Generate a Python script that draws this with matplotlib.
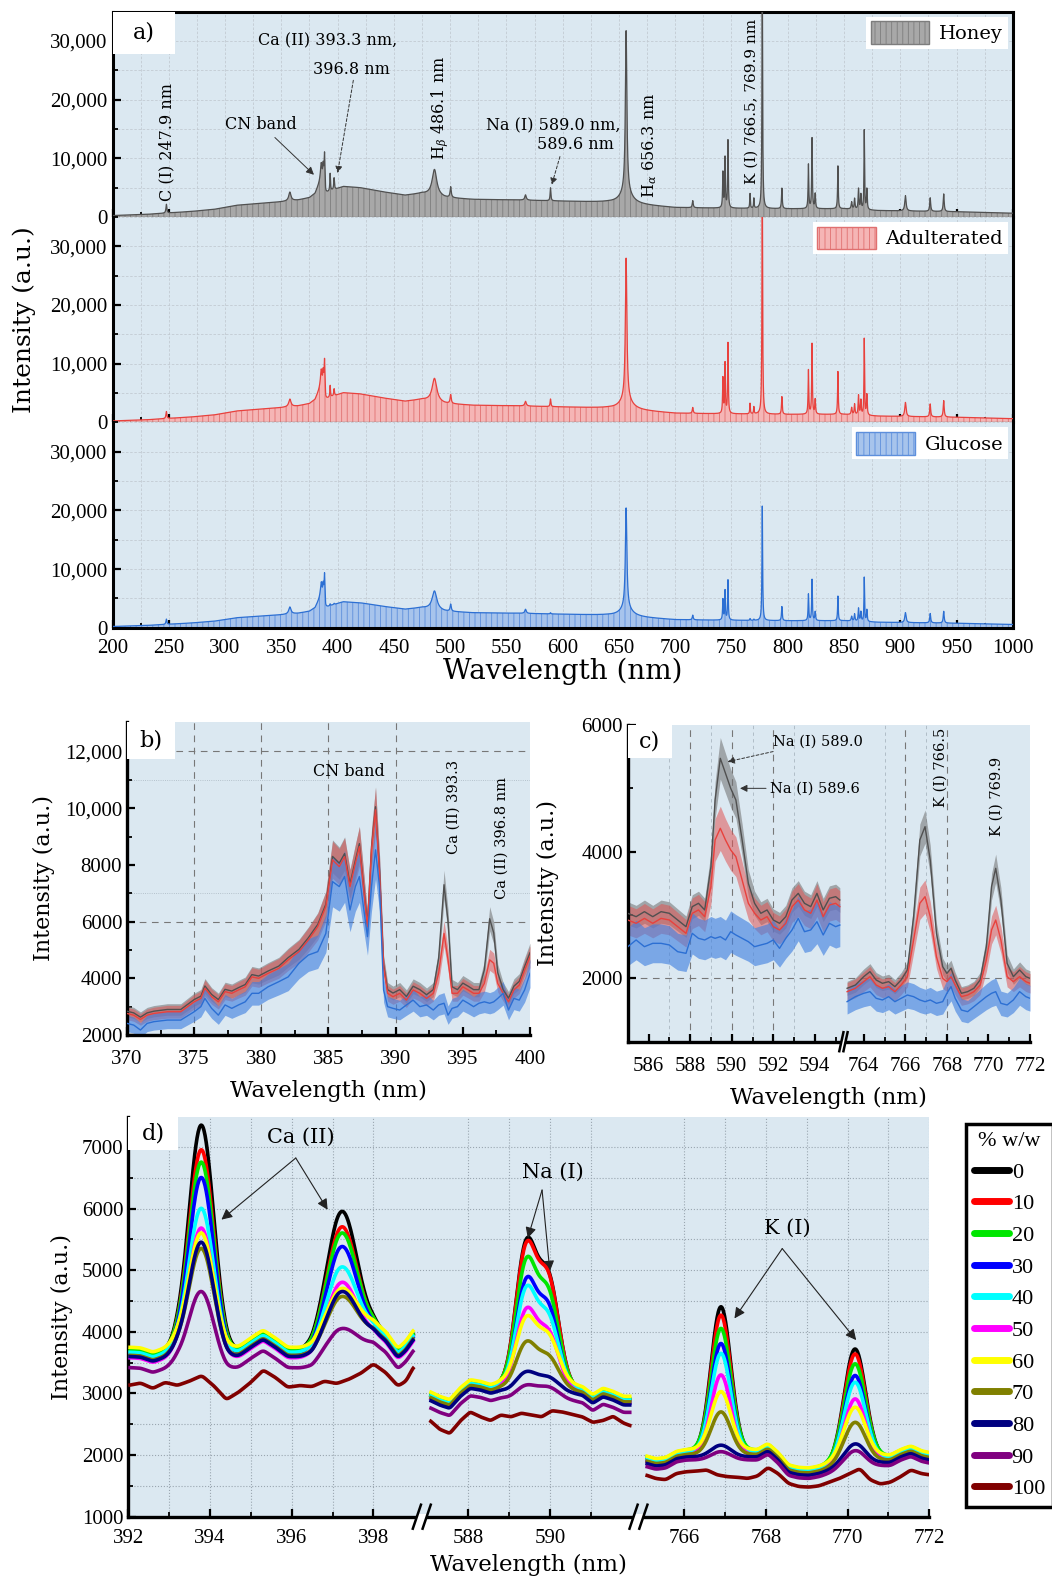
import numpy as np
import matplotlib

matplotlib.use("Agg")
import matplotlib.pyplot as plt
import matplotlib.transforms as mtransforms
from matplotlib.lines import Line2D
from matplotlib.patches import Patch, Rectangle
from matplotlib.ticker import FixedLocator, FuncFormatter, MultipleLocator

plt.rcParams["font.family"] = "DejaVu Serif"
plt.rcParams["mathtext.fontset"] = "dejavuserif"
plt.rcParams["hatch.linewidth"] = 0.6

TICK_FONT = "Liberation Serif"
BG = "#dbe8f1"

# ---------------- panel a: full spectra ----------------
series_names = ["Honey", "Adulterated", "Glucose"]
line_colors = ["#505050", "#e8413d", "#2c6fd3"]
fill_colors = ["#a8a8a8", "#f5b5b5", "#a7c4ec"]
hatch_colors = ["#7d7d7d", "#e07070", "#5d8fdc"]

a_base_wl = [200, 230, 250, 270, 290, 310, 330, 350, 365, 375, 380, 384.5, 388.9, 389.4, 395, 405,
             420, 440, 460, 475, 495, 520, 560, 600, 640, 680, 700, 740, 800, 850, 880, 950, 1000]
a_base_val = [250, 450, 700, 950, 1300, 2000, 2300, 2600, 2900, 3300, 4000, 6000, 6000, 4000, 4500, 5200,
              5000, 4300, 3700, 4000, 3300, 3000, 2900, 2700, 2500, 1900, 1600, 1500, 1400, 1400, 1100, 900, 650]
a_base_scale = [1.0, 0.97, 0.85]

a_peak_center = [247.9, 357.6, 385.5, 387.2, 388.4, 393.4, 396.9, 486.1, 500.5, 567.0, 589.2, 656.4, 656.4,
                 715.6, 742.4, 744.3, 746.9, 766.5, 769.9, 777.4, 794.8, 818.4, 821.6, 824.4, 844.6,
                 856.8, 859.4, 862.9, 865.0, 868.0, 870.3, 904.6, 926.6, 938.6]
a_peak_hwhm = [0.5, 1.2, 0.8, 0.5, 0.4, 0.35, 0.4, 2.5, 0.6, 0.8, 0.4, 0.8, 6.0,
               0.5, 0.35, 0.35, 0.35, 0.3, 0.3, 0.35, 0.4, 0.35, 0.35, 0.4, 0.35,
               0.5, 0.4, 0.4, 0.4, 0.3, 0.4, 0.7, 0.5, 0.5]
a_peak_honey = [1500, 1500, 3000, 2500, 4500, 3000, 2000, 4500, 1800, 900, 2200, 27500, 2000,
                1200, 6000, 8500, 11500, 2500, 1700, 40000, 3500, 7500, 12000, 2500, 7300,
                1200, 1800, 3500, 2500, 13500, 3500, 2600, 2300, 3000]
a_peak_adult = [1200, 1300, 3000, 2500, 4500, 2000, 1200, 4000, 1500, 800, 1300, 24000, 1800,
                1000, 6000, 8500, 12000, 1800, 1200, 40000, 3000, 7500, 12000, 2500, 7300,
                1200, 1800, 3300, 2500, 13000, 3500, 2400, 2200, 2800]
a_peak_glucose = [900, 1200, 2500, 2000, 3800, 300, 200, 3200, 1200, 700, 200, 17000, 1500,
                  800, 3500, 5000, 6800, 300, 200, 19500, 2400, 4500, 7000, 1500, 4200,
                  800, 1200, 2200, 1600, 7500, 2000, 1700, 1600, 2000]
a_peak_heights = [a_peak_honey, a_peak_adult, a_peak_glucose]

# ---------------- panel b: CN band region ----------------
b_wl = [370, 370.5, 371, 371.5, 372, 373, 374, 375, 375.5, 375.8, 376.3, 376.8, 377.3, 377.8, 378.3,
        378.8, 379.3, 379.8, 380.5, 381.3, 382, 382.8, 383.5, 384.2, 384.8, 385.3, 385.8, 386.2, 386.6,
        387.0, 387.3, 387.6, 387.9, 388.2, 388.5, 388.8, 389.1, 389.4, 389.8, 390.3, 390.8, 391.3, 391.8,
        392.3, 392.8, 393.2, 393.6, 393.9, 394.2, 394.6, 395.0, 395.4, 395.8, 396.2, 396.6, 397.0, 397.3,
        397.6, 398.0, 398.4, 398.8, 399.2, 399.6, 400]
b_adult = [2760, 2700, 2550, 2700, 2760, 2820, 2820, 3170, 3290, 3650, 3350, 3170, 3530, 3470, 3590,
           3700, 4050, 4000, 4175, 4350, 4650, 4940, 5350, 5820, 6530, 8180, 7940, 8290, 7235,
           8060, 8650, 7235, 5820, 8530, 9940, 7700, 4410, 3470, 3350, 3470, 3230, 3590, 3470,
           3290, 3470, 4175, 5580, 4650, 3470, 3470, 3700, 3590, 3470, 3470, 3820, 4650, 4530,
           3820, 3470, 3170, 3590, 3760, 4290, 4760]
b_honey = [2840, 2780, 2630, 2780, 2840, 2900, 2900, 3250, 3370, 3730, 3430, 3250, 3610, 3550, 3670,
           3780, 4130, 4080, 4255, 4430, 4730, 5020, 5430, 5900, 6610, 8300, 8060, 8400, 7330,
           8160, 8750, 7330, 5900, 8630, 10050, 7800, 4490, 3600, 3480, 3600, 3360, 3720, 3600,
           3420, 3600, 4700, 7300, 6000, 3700, 3600, 3830, 3720, 3600, 3600, 4300, 6100, 5600,
           4200, 3600, 3300, 3720, 3890, 4420, 4900]
b_glucose = [2410, 2350, 2175, 2410, 2470, 2526, 2526, 2820, 3000, 3290, 2940, 2700, 3060, 2940, 3060,
             3170, 3470, 3470, 3700, 3880, 4050, 4530, 4820, 4940, 5580, 7410, 7235, 7590, 6410,
             7235, 7590, 6530, 5470, 7235, 8530, 7235, 3590, 3000, 2940, 2880, 3060, 3230, 3000,
             3060, 2880, 3060, 3120, 2700, 2940, 3000, 3230, 3120, 3000, 3120, 3170, 3120, 3170,
             3290, 3470, 2880, 3290, 3230, 3590, 4175]
b_rel_spread = [0.07, 0.08, 0.12]

# ---------------- panel c: Na and K lines ----------------
c_wl_na = [585, 585.4, 585.8, 586.2, 586.6, 587.0, 587.4, 587.8, 588.1, 588.4, 588.7, 589.0, 589.2, 589.45,
           589.7, 589.95, 590.2, 590.5, 590.8, 591.1, 591.4, 591.7, 592.0, 592.3, 592.6, 592.9, 593.2,
           593.5, 593.8, 594.1, 594.4, 594.7, 595.0, 595.2]
c_na_honey = [3027, 2974, 3053, 2974, 3053, 3027, 2921, 2816, 3132, 3185, 3080, 3763, 4816, 5474,
              5237, 5000, 4816, 4185, 3500, 3185, 3027, 3080, 2921, 2869, 2974, 3237, 3342,
              3185, 3132, 3342, 3080, 3264, 3290, 3237]
c_na_adult = [2921, 2869, 2947, 2869, 2947, 2921, 2816, 2711, 3027, 3080, 2974, 3448, 4185, 4369,
              4185, 4027, 3921, 3553, 3185, 3027, 2921, 2974, 2816, 2764, 2869, 3132, 3237,
              3080, 3027, 3237, 2974, 3158, 3185, 3132]
c_na_glucose = [2500, 2606, 2500, 2553, 2553, 2527, 2421, 2395, 2711, 2632, 2606, 2658, 2632, 2658,
                2606, 2737, 2685, 2632, 2579, 2500, 2527, 2553, 2606, 2474, 2632, 2764, 2947,
                2737, 2764, 2895, 2685, 2869, 2816, 2842]
c_wl_k = [763.2, 763.6, 764.0, 764.3, 764.6, 764.9, 765.2, 765.5, 765.8, 766.1, 766.4, 766.7, 766.95,
          767.2, 767.5, 767.8, 768.0, 768.2, 768.4, 768.7, 769.0, 769.3, 769.6, 769.9, 770.15, 770.35,
          770.6, 770.9, 771.2, 771.5, 771.8, 772.0]
c_k_honey = [1843, 1895, 2027, 2106, 1974, 1922, 1948, 1869, 1974, 2132, 2974, 4185, 4395,
             3869, 2711, 2185, 2079, 2158, 1974, 1764, 1790, 1843, 1974, 2500, 3448, 3737,
             3237, 2237, 2027, 2132, 2027, 2000]
c_k_adult = [1790, 1843, 1948, 2027, 1895, 1843, 1869, 1790, 1895, 2027, 2606, 3185, 3290,
             2974, 2342, 2000, 1948, 2027, 1895, 1711, 1737, 1790, 1895, 2290, 2764, 2921,
             2606, 2027, 1948, 2027, 1948, 1922]
c_k_glucose = [1632, 1711, 1764, 1790, 1685, 1659, 1711, 1632, 1685, 1737, 1711, 1659, 1632,
               1659, 1606, 1632, 1764, 1869, 1685, 1500, 1474, 1553, 1632, 1711, 1764, 1790,
               1606, 1580, 1659, 1790, 1711, 1685]
c_rel_spread = [0.06, 0.08, 0.12]

# ---------------- panel d: concentration series ----------------
d_levels = [0, 10, 20, 30, 40, 50, 60, 70, 80, 90, 100]
d_colors = ["#000000", "#ff0000", "#00e600", "#0000ff", "#00ffff", "#ff00ff",
            "#ffff00", "#808000", "#000080", "#800080", "#800000"]

d_ca_wl = [392.0, 392.3, 392.6, 392.9, 393.2, 393.5, 393.8, 394.1, 394.4, 394.7, 395.0, 395.3, 395.6,
           395.9, 396.2, 396.5, 396.8, 397.1, 397.4, 397.7, 398.0, 398.3, 398.6, 398.8, 399.0]
d_ca_bg = [3700, 3690, 3620, 3680, 3780, 3750, 3700, 3680, 3620, 3700, 3850, 3980, 3850,
           3700, 3690, 3700, 3850, 3950, 3980, 4020, 4080, 3950, 3680, 3800, 4000]
d_ca_bg100 = [3130, 3170, 3080, 3180, 3130, 3200, 3290, 3120, 2900, 3020, 3180, 3380, 3260,
              3100, 3130, 3110, 3200, 3160, 3230, 3330, 3480, 3340, 3120, 3200, 3450]
d_ca_lines = [393.79, 397.23]
d_ca_sigma = [0.30, 0.36]
d_ca_offset = [0, -20, 0, -50, -30, -120, 50, -80, -100, -280, 0]
d_ca_h1 = [3650, 3270, 3050, 2850, 2330, 2100, 1850, 1730, 1850, 1230, 0]
d_ca_h2 = [1990, 1760, 1640, 1470, 1120, 960, 690, 690, 790, 370, 0]

d_na_wl = [587.05, 587.3, 587.55, 587.8, 588.05, 588.3, 588.55, 588.8, 589.05, 589.3, 589.55,
           589.8, 590.05, 590.3, 590.55, 590.8, 591.05, 591.3, 591.55, 591.8, 592.0]
d_na_bg = [2974, 2893, 2838, 3027, 3163, 3136, 3082, 3120, 3100, 3100, 3100,
           3100, 3100, 3100, 3080, 3050, 2920, 3027, 2974, 2893, 2893]
d_na_bg100 = [2570, 2420, 2350, 2550, 2700, 2620, 2560, 2650, 2620, 2680, 2650,
              2620, 2720, 2700, 2660, 2620, 2530, 2560, 2630, 2520, 2470]
d_na_lines = [589.42, 589.97]
d_na_sigma = [0.25, 0.25]
d_na_offset = [0, 0, 20, -50, 0, -40, 60, -30, -80, -200, 0]
d_na_h1 = [2250, 2200, 1950, 1710, 1540, 1245, 1025, 730, 315, 220, 0]
d_na_h2 = [1690, 1670, 1425, 1270, 1075, 870, 730, 495, 225, 190, 0]

d_k_wl = [765.05, 765.3, 765.55, 765.8, 766.05, 766.3, 766.55, 766.8, 767.05, 767.3, 767.55, 767.8,
          768.05, 768.3, 768.55, 768.8, 769.05, 769.3, 769.55, 769.8, 770.05, 770.3, 770.55, 770.8,
          771.05, 771.3, 771.55, 771.8, 772.0]
d_k_bg = [1950, 1900, 1920, 2020, 2050, 2050, 2050, 2050, 2050, 2050, 2050, 2050,
          2150, 2000, 1800, 1760, 1750, 1780, 1830, 1880, 1900, 1920, 1930, 1950,
          1960, 2050, 2110, 2030, 2000]
d_k_bg100 = [1680, 1620, 1600, 1700, 1730, 1740, 1760, 1680, 1650, 1640, 1620, 1660,
             1800, 1700, 1540, 1490, 1480, 1500, 1560, 1620, 1700, 1780, 1600, 1530,
             1560, 1650, 1760, 1700, 1680]
d_k_lines = [766.90, 770.18]
d_k_sigma = [0.24, 0.26]
d_k_offset = [0, -20, 30, -30, 0, -50, 40, -40, -80, -130, 0]
d_k_h1 = [2356, 2240, 1975, 1790, 1600, 1300, 940, 690, 190, 135, 0]
d_k_h2 = [1810, 1750, 1540, 1410, 1270, 1050, 825, 660, 350, 290, 0]


def style_axis(ax, xpad=4):
    ax.set_facecolor(BG)
    ax.tick_params(which="both", direction="in", labelsize=15, labelfontfamily=TICK_FONT)
    ax.tick_params(which="major", length=6, width=1.6)
    ax.tick_params(which="minor", length=3.5, width=1.3)
    ax.tick_params(axis="x", which="both", pad=xpad)


def open_spines(ax):
    ax.spines["top"].set_visible(False)
    ax.spines["right"].set_visible(False)
    ax.spines["left"].set_linewidth(2.4)
    ax.spines["bottom"].set_linewidth(2.4)


def panel_label(ax, text, w, h):
    ax.add_patch(Rectangle((0, 1 - h), w, h, transform=ax.transAxes, fc="white", ec="none",
                           zorder=6, clip_on=False))
    ax.text(w / 2, 1 - h / 2, text, transform=ax.transAxes, ha="center", va="center",
            fontsize=16, zorder=7)


def break_marks(ax, u, half=0.14):
    trans = mtransforms.blended_transform_factory(ax.transData, ax.transAxes)
    ax.add_patch(Rectangle((u - half, -0.03), 2 * half, 0.036, transform=trans, fc="white",
                           ec="none", clip_on=False, zorder=6))
    for du in (-half, half):
        ax.plot([u + du - 0.1, u + du + 0.1], [-0.03, 0.03], transform=trans, color="black",
                lw=1.8, clip_on=False, zorder=7)


def smooth(y, n=9):
    k = np.hanning(n + 2)[1:-1]
    k = k / k.sum()
    pad = n // 2
    return np.convolve(np.pad(y, pad, mode="edge"), k, mode="valid")


def comma_fmt(v, _pos):
    return f"{v:,.0f}"


def origin_fmt(v, _pos):
    return f"{v:,.0f}" if v >= 10000 else f"{v:.0f}"


fig = plt.figure(figsize=(10.52, 15.76), dpi=100)

# ---------------- draw panel a ----------------
x_a = np.linspace(200, 1000, 16001)
a_left, a_width = 112.5 / 1052, 900.3 / 1052
a_bottoms = [0.8623, 0.7320, 0.6017]
a_height = 0.1303
axes_a = []
for k, bottom in enumerate(a_bottoms):
    ax = fig.add_axes([a_left, bottom, a_width, a_height])
    axes_a.append(ax)
    style_axis(ax, xpad=8)
    y = np.interp(x_a, a_base_wl, a_base_val) * a_base_scale[k]
    for c, w, h in zip(a_peak_center, a_peak_hwhm, a_peak_heights[k]):
        y = y + h * w ** 2 / ((x_a - c) ** 2 + w ** 2)
    ax.fill_between(x_a, 0, y, facecolor=fill_colors[k], edgecolor=hatch_colors[k], hatch="|||",
                    lw=0, zorder=2)
    ax.plot(x_a, y, color=line_colors[k], lw=0.9, zorder=3)
    ax.set_xlim(200, 1000)
    ax.set_ylim(0, 35000)
    ax.xaxis.set_major_locator(MultipleLocator(50))
    ax.xaxis.set_minor_locator(MultipleLocator(25))
    ax.yaxis.set_major_locator(MultipleLocator(10000))
    ax.yaxis.set_minor_locator(MultipleLocator(5000))
    ax.yaxis.set_major_formatter(FuncFormatter(comma_fmt))
    ax.grid(which="both", color="#c2cbd3", ls=(0, (3, 2)), lw=0.6)
    ax.set_axisbelow(True)
    for side in ("left", "right"):
        ax.spines[side].set_linewidth(2.2)
    if k > 0:
        ax.spines["top"].set_visible(False)
    else:
        ax.spines["top"].set_linewidth(2.2)
    if k < 2:
        ax.spines["bottom"].set_color("#7a7a7a")
        ax.spines["bottom"].set_linewidth(1.0)
        ax.tick_params(labelbottom=False)
    else:
        ax.spines["bottom"].set_linewidth(2.2)
    leg = ax.legend(handles=[Patch(facecolor=fill_colors[k], edgecolor=hatch_colors[k], hatch="|||",
                                   label=series_names[k])],
                    loc="upper right", fontsize=14, frameon=True, fancybox=False, framealpha=1,
                    edgecolor="none", handlelength=3.0, handleheight=1.4, borderaxespad=0.25,
                    borderpad=0.25, handletextpad=0.5)
    leg.set_zorder(8)

axes_a[2].set_xlabel("Wavelength (nm)", fontsize=20, labelpad=0)
axes_a[1].set_ylabel("Intensity (a.u.)", fontsize=18, labelpad=10)
panel_label(axes_a[0], "a)", 0.069, 0.205)

ax = axes_a[0]
ann = dict(fontsize=11.5, zorder=7)
ax.text(247.9, 2700, "C (I) 247.9 nm", rotation=90, ha="center", va="bottom", **ann)
ax.annotate("CN band", xy=(379, 7200), xytext=(332, 15800), ha="center", va="center",
            arrowprops=dict(arrowstyle="-|>", color="#333333", lw=0.7, shrinkA=2, shrinkB=0), **ann)
ax.text(391, 30000, "Ca (II) 393.3 nm,", ha="center", va="center", **ann)
ax.text(412, 25200, "396.8 nm", ha="center", va="center", **ann)
ax.annotate("", xy=(400, 7500), xytext=(414, 23300),
            arrowprops=dict(arrowstyle="-|>", color="#333333", lw=0.7, ls=(0, (3, 2)), shrinkA=0, shrinkB=0))
ax.text(491, 9700, r"H$_\beta$ 486.1 nm", rotation=90, ha="center", va="bottom", **ann)
ax.text(532, 15500, "Na (I) 589.0 nm,", ha="left", va="center", **ann)
ax.text(577, 12350, "589.6 nm", ha="left", va="center", **ann)
ax.annotate("", xy=(590.3, 5500), xytext=(597.6, 10300),
            arrowprops=dict(arrowstyle="-|>", color="#333333", lw=0.7, ls=(0, (3, 2)), shrinkA=0, shrinkB=0))
ax.text(677.6, 3300, r"H$_\alpha$ 656.3 nm", rotation=90, ha="center", va="bottom", **ann)
ax.text(768, 5600, "K (I) 766.5, 769.9 nm", rotation=90, ha="center", va="bottom", fontsize=11, zorder=7)

# ---------------- draw panel b ----------------
band_colors = ["#6e6e6e", "#e05555", "#3f7fe0"]
band_alpha = [0.55, 0.55, 0.62]
ax_b = fig.add_axes([127 / 1052, 1 - 1035 / 1576, 403 / 1052, 313.3 / 1576])
style_axis(ax_b, xpad=11)
open_spines(ax_b)
for k, vals in enumerate([b_honey, b_adult, b_glucose]):
    v = np.array(vals, dtype=float)
    ax_b.fill_between(b_wl, v * (1 - b_rel_spread[k]), v * (1 + b_rel_spread[k]),
                      color=band_colors[k], alpha=band_alpha[k], lw=0, zorder=2)
    ax_b.plot(b_wl, v, color=line_colors[k], lw=1.0, zorder=3)
ax_b.set_xlim(370, 400)
ax_b.set_ylim(2000, 13050)
ax_b.xaxis.set_major_locator(MultipleLocator(5))
ax_b.xaxis.set_minor_locator(MultipleLocator(2.5))
ax_b.yaxis.set_major_locator(MultipleLocator(2000))
ax_b.yaxis.set_minor_locator(MultipleLocator(1000))
ax_b.yaxis.set_major_formatter(FuncFormatter(origin_fmt))
for xv in (375, 380, 385, 390):
    ax_b.axvline(xv, color="#777777", ls=(0, (6, 5)), lw=0.8, zorder=1)
for yv in (6000, 12000):
    ax_b.axhline(yv, color="#777777", ls=(0, (6, 5)), lw=0.8, zorder=1)
for yv in (7000, 11000):
    ax_b.axhline(yv, color="#a9b6c0", ls=":", lw=0.6, zorder=1)
ax_b.set_xlabel("Wavelength (nm)", fontsize=16.5, labelpad=8)
ax_b.set_ylabel("Intensity (a.u.)", fontsize=16, labelpad=7)
panel_label(ax_b, "b)", 0.12, 0.12)
ax_b.text(386.5, 11300, "CN band", ha="center", va="center", fontsize=11.5)
ax_b.text(394.3, 8400, "Ca (II) 393.3", rotation=90, ha="center", va="bottom", fontsize=10.5)
ax_b.text(397.9, 6800, "Ca (II) 396.8 nm", rotation=90, ha="center", va="bottom", fontsize=10.5)

# ---------------- draw panel c ----------------
C_GAP = 0.35


def map_c(wl):
    wl = np.asarray(wl, dtype=float)
    return np.where(wl < 700, wl - 585, 10.2 + C_GAP + (wl - 763.2))


ax_c = fig.add_axes([627.8 / 1052, 1 - 1041.7 / 1576, 402.2 / 1052, 316.7 / 1576])
style_axis(ax_c, xpad=11)
open_spines(ax_c)
for k, (na_vals, k_vals) in enumerate(zip([c_na_honey, c_na_adult, c_na_glucose],
                                          [c_k_honey, c_k_adult, c_k_glucose])):
    for wl, vals in ((c_wl_na, na_vals), (c_wl_k, k_vals)):
        v = np.array(vals, dtype=float)
        u = map_c(wl)
        ax_c.fill_between(u, v * (1 - c_rel_spread[k]), v * (1 + c_rel_spread[k]),
                          color=band_colors[k], alpha=band_alpha[k], lw=0, zorder=2)
        ax_c.plot(u, v, color=line_colors[k], lw=1.0, zorder=3)
ax_c.set_xlim(0, 10.2 + C_GAP + 8.8)
ax_c.set_ylim(1000, 6000)
c_major = [586, 588, 590, 592, 594, 764, 766, 768, 770, 772]
c_minor = [587, 589, 591, 593, 595, 765, 767, 769, 771]
ax_c.xaxis.set_major_locator(FixedLocator(map_c(c_major)))
ax_c.xaxis.set_major_formatter(FuncFormatter(lambda v, p: str(c_major[p]) if p is not None and p < len(c_major) else ""))
ax_c.xaxis.set_minor_locator(FixedLocator(map_c(c_minor)))
ax_c.yaxis.set_major_locator(MultipleLocator(2000))
ax_c.yaxis.set_minor_locator(MultipleLocator(1000))
for xv in (588, 590, 592, 766, 768):
    ax_c.axvline(float(map_c(xv)), color="#777777", ls=(0, (6, 5)), lw=0.8, zorder=1)
for xv in (587, 589, 591, 593, 765, 767):
    ax_c.axvline(float(map_c(xv)), color="#a9b6c0", ls=(0, (4, 4)), lw=0.6, zorder=1)
ax_c.axhline(2000, color="#777777", ls=(0, (6, 5)), lw=0.8, zorder=1)
break_marks(ax_c, 10.2 + C_GAP / 2, half=0.1)
ax_c.set_xlabel("Wavelength (nm)", fontsize=16.5, labelpad=8)
ax_c.set_ylabel("Intensity (a.u.)", fontsize=16, labelpad=16)
panel_label(ax_c, "c)", 0.11, 0.105)
ax_c.annotate("Na (I) 589.0", xy=(float(map_c(589.8)), 5420), xytext=(float(map_c(592.0)), 5740),
              ha="left", va="center", fontsize=10.5,
              arrowprops=dict(arrowstyle="-|>", color="#333333", lw=0.7, ls=(0, (3, 2)), shrinkA=1, shrinkB=0))
ax_c.annotate("Na (I) 589.6", xy=(float(map_c(590.4)), 5000), xytext=(float(map_c(591.85)), 5000),
              ha="left", va="center", fontsize=10.5,
              arrowprops=dict(arrowstyle="-|>", color="#333333", lw=0.7, shrinkA=1, shrinkB=0))
ax_c.text(float(map_c(767.7)), 4700, "K (I) 766.5", rotation=90, ha="center", va="bottom", fontsize=10.5)
ax_c.text(float(map_c(770.4)), 4240, "K (I) 769.9", rotation=90, ha="center", va="bottom", fontsize=10.5)

# ---------------- draw panel d ----------------
D_GAP1, D_GAP2 = 0.37, 0.34
NA_START = 7.0 + D_GAP1
K_START = NA_START + 4.95 + D_GAP2


def map_d(wl):
    wl = np.asarray(wl, dtype=float)
    return np.where(wl < 500, wl - 392.0,
                    np.where(wl < 700, NA_START + (wl - 587.05), K_START + (wl - 765.05)))


ax_d = fig.add_axes([128.3 / 1052, 1 - 1516.7 / 1576, 801 / 1052, 400 / 1576])
style_axis(ax_d, xpad=9)
open_spines(ax_d)

segments = [
    (d_ca_wl, d_ca_bg, d_ca_bg100, d_ca_offset, [d_ca_h1, d_ca_h2], d_ca_lines, d_ca_sigma),
    (d_na_wl, d_na_bg, d_na_bg100, d_na_offset, [d_na_h1, d_na_h2], d_na_lines, d_na_sigma),
    (d_k_wl, d_k_bg, d_k_bg100, d_k_offset, [d_k_h1, d_k_h2], d_k_lines, d_k_sigma),
]
for i, level in enumerate(d_levels):
    for wl, bg, bg100, offset, heights, lines, sigmas in segments:
        x = np.linspace(wl[0], wl[-1], 500)
        if level == 100:
            y = np.interp(x, wl, bg100)
        else:
            y = np.interp(x, wl, bg) + offset[i]
        y = smooth(y, 15)
        for c, s, hs in zip(lines, sigmas, heights):
            y = y + hs[i] * np.exp(-0.5 * ((x - c) / s) ** 2)
        ax_d.plot(map_d(x), y, color=d_colors[i], lw=2.6, solid_capstyle="butt", zorder=3 + i * 0.01)

ax_d.set_xlim(0, K_START + 6.95)
ax_d.set_ylim(1000, 7490)
d_major = [392, 394, 396, 398, 588, 590, 766, 768, 770, 772]
d_minor = [393, 395, 397, 589, 591, 767, 769, 771]
ax_d.xaxis.set_major_locator(FixedLocator(map_d(d_major)))
ax_d.xaxis.set_major_formatter(FuncFormatter(lambda v, p: str(d_major[p]) if p is not None and p < len(d_major) else ""))
ax_d.xaxis.set_minor_locator(FixedLocator(map_d(d_minor)))
ax_d.yaxis.set_major_locator(MultipleLocator(1000))
ax_d.yaxis.set_minor_locator(MultipleLocator(500))
ax_d.grid(which="both", color="#9aa6b0", ls=":", lw=0.8)
ax_d.set_axisbelow(True)
break_marks(ax_d, 7.0 + D_GAP1 / 2, half=0.12)
break_marks(ax_d, NA_START + 4.95 + D_GAP2 / 2, half=0.12)
ax_d.set_xlabel("Wavelength (nm)", fontsize=16.5, labelpad=4)
ax_d.set_ylabel("Intensity (a.u.)", fontsize=16, labelpad=6)
panel_label(ax_d, "d)", 0.062, 0.083)

arrow_kw = dict(arrowstyle="-|>", color="#222222", lw=0.8, mutation_scale=16, shrinkA=0, shrinkB=0)
ax_d.text(float(map_d(396.23)), 7160, "Ca (II)", ha="center", va="center", fontsize=15)
for tip in ((394.28, 5820), (396.88, 5980)):
    ax_d.annotate("", xy=(float(map_d(tip[0])), tip[1]), xytext=(float(map_d(396.1)), 6820), arrowprops=arrow_kw)
ax_d.text(float(map_d(590.07)), 6594, "Na (I)", ha="center", va="center", fontsize=15)
for tip in ((589.46, 5520), (590.0, 4980)):
    ax_d.annotate("", xy=(float(map_d(tip[0])), tip[1]), xytext=(float(map_d(589.81)), 6300), arrowprops=arrow_kw)
ax_d.text(float(map_d(768.53)), 5676, "K (I)", ha="center", va="center", fontsize=15)
for tip in ((767.23, 4217), (770.21, 3865)):
    ax_d.annotate("", xy=(float(map_d(tip[0])), tip[1]), xytext=(float(map_d(768.4)), 5350), arrowprops=arrow_kw)

handles = [Line2D([0], [0], color=c, lw=5, solid_capstyle="round") for c in d_colors]
leg_d = fig.legend(handles, [str(v) for v in d_levels], title="% w/w", loc="upper left",
                   bbox_to_anchor=(955 / 1052, 1 - 1113 / 1576), frameon=True, fancybox=False,
                   edgecolor="black", framealpha=1, handlelength=1.6, handletextpad=0.1,
                   labelspacing=0.5, borderpad=0.35, prop={"family": TICK_FONT, "size": 16},
                   title_fontproperties={"family": TICK_FONT, "size": 16})
leg_d.get_frame().set_linewidth(2.5)

fig.savefig("out.png", dpi=100)
